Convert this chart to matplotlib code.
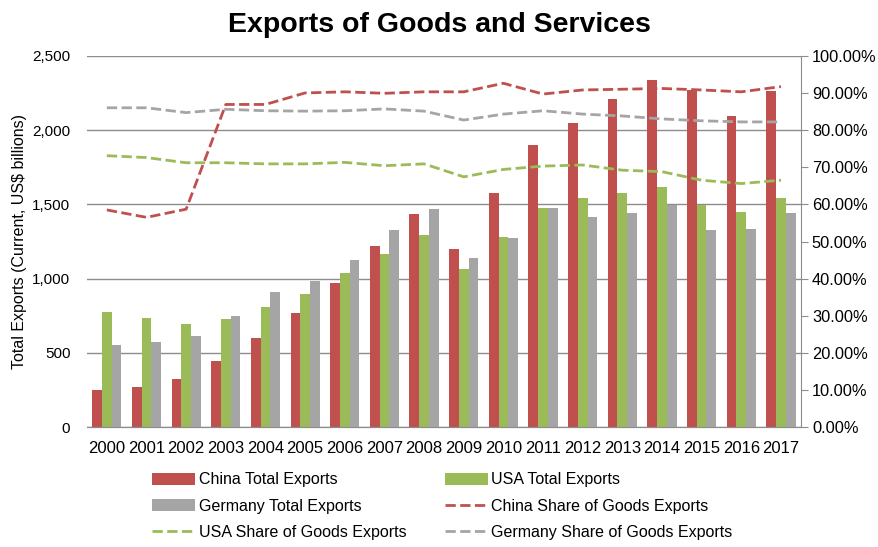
import matplotlib.pyplot as plt
import numpy as np
from matplotlib.ticker import FuncFormatter, MultipleLocator

plt.rcParams['font.family'] = ['Liberation Sans', 'DejaVu Sans']

# colors
red = '#C0504D'
green = '#9BBB59'
grey = '#A5A5A5'
grid_grey = '#8C8C8C'

years = ['2000', '2001', '2002', '2003', '2004', '2005', '2006', '2007', '2008',
         '2009', '2010', '2011', '2012', '2013', '2014', '2015', '2016', '2017']

# total exports, US$ billions
china_exports = [250, 273, 327, 446, 598, 766, 972, 1218, 1438,
                 1198, 1577, 1897, 2050, 2211, 2338, 2271, 2092, 2266]
usa_exports = [777, 737, 692, 726, 811, 896, 1035, 1165, 1292,
               1062, 1277, 1478, 1543, 1577, 1617, 1499, 1449, 1543]
germany_exports = [553, 575, 616, 748, 907, 983, 1124, 1326, 1467,
                   1136, 1274, 1478, 1415, 1445, 1499, 1330, 1337, 1445]

# share of goods in total exports, %
china_share = [58.5, 56.5, 58.7, 86.9, 86.9, 90.0, 90.3, 89.9, 90.3,
               90.3, 92.6, 89.7, 90.8, 91.0, 91.2, 90.8, 90.3, 91.7]
usa_share = [73.1, 72.6, 71.2, 71.2, 70.9, 70.9, 71.3, 70.4, 70.9,
             67.4, 69.4, 70.3, 70.6, 69.2, 68.8, 66.5, 65.6, 66.5]
germany_share = [86.0, 86.0, 84.7, 85.6, 85.2, 85.1, 85.2, 85.7, 85.1,
                 82.7, 84.3, 85.2, 84.3, 83.8, 83.0, 82.5, 82.2, 82.2]

fig = plt.figure(figsize=(8.79, 5.47), dpi=100)
ax1 = fig.add_axes([0.099, 0.219, 0.812, 0.679])
ax2 = ax1.twinx()

x = np.arange(len(years))
w = 0.245

b1 = ax1.bar(x - w, china_exports, w, color=red, label='China Total Exports', zorder=3)
b2 = ax1.bar(x, usa_exports, w, color=green, label='USA Total Exports', zorder=3)
b3 = ax1.bar(x + w, germany_exports, w, color=grey, label='Germany Total Exports', zorder=3)

l1, = ax2.plot(x, china_share, '--', color=red, lw=2, label='China Share of Goods Exports')
l2, = ax2.plot(x, usa_share, '--', color=green, lw=2, label='USA Share of Goods Exports')
l3, = ax2.plot(x, germany_share, '--', color=grey, lw=2, label='Germany Share of Goods Exports')

ax1.set_xlim(-0.5, len(years) - 0.5)
ax1.set_ylim(0, 2500)
ax1.yaxis.set_major_locator(MultipleLocator(500))
ax1.yaxis.set_major_formatter(FuncFormatter(lambda v, p: f'{v:,.0f}'))
ax1.set_xticks(x)
ax1.set_xticklabels(years)
ax1.grid(axis='y', color=grid_grey, lw=1, zorder=0)
ax1.set_axisbelow(True)
ax1.tick_params(axis='y', length=0, labelsize=11, pad=12)
ax1.tick_params(axis='x', length=0, labelsize=12, pad=10)
ax1.set_ylabel('Total Exports (Current, US$ billions)', fontsize=11.5, labelpad=4)

ax2.set_ylim(0, 100)
ax2.yaxis.set_major_locator(MultipleLocator(10))
ax2.yaxis.set_major_formatter(FuncFormatter(lambda v, p: f'{v:.2f}%'))
ax2.tick_params(axis='y', length=5, color=grid_grey, labelsize=11.8, pad=3)

for ax in (ax1, ax2):
    for side in ('top', 'left', 'right'):
        ax.spines[side].set_visible(False)
    ax.spines['bottom'].set_color(grid_grey)
ax2.spines['right'].set_visible(True)
ax2.spines['right'].set_color(grid_grey)

fig.suptitle('Exports of Goods and Services', fontsize=20.5, fontweight='bold', y=0.978)

# two-column legend, filled row by row
handles = [b1, b3, l2, b2, l1, l3]
fig.legend(handles=handles, labels=[h.get_label() for h in handles],
           ncol=2, loc='upper left', bbox_to_anchor=(0.166, 0.148),
           frameon=False, fontsize=11.5, handlelength=2.7, handleheight=0.75,
           columnspacing=2.4, labelspacing=0.7, handletextpad=0.2,
           borderaxespad=0)

fig.savefig('out.png', dpi=100)
